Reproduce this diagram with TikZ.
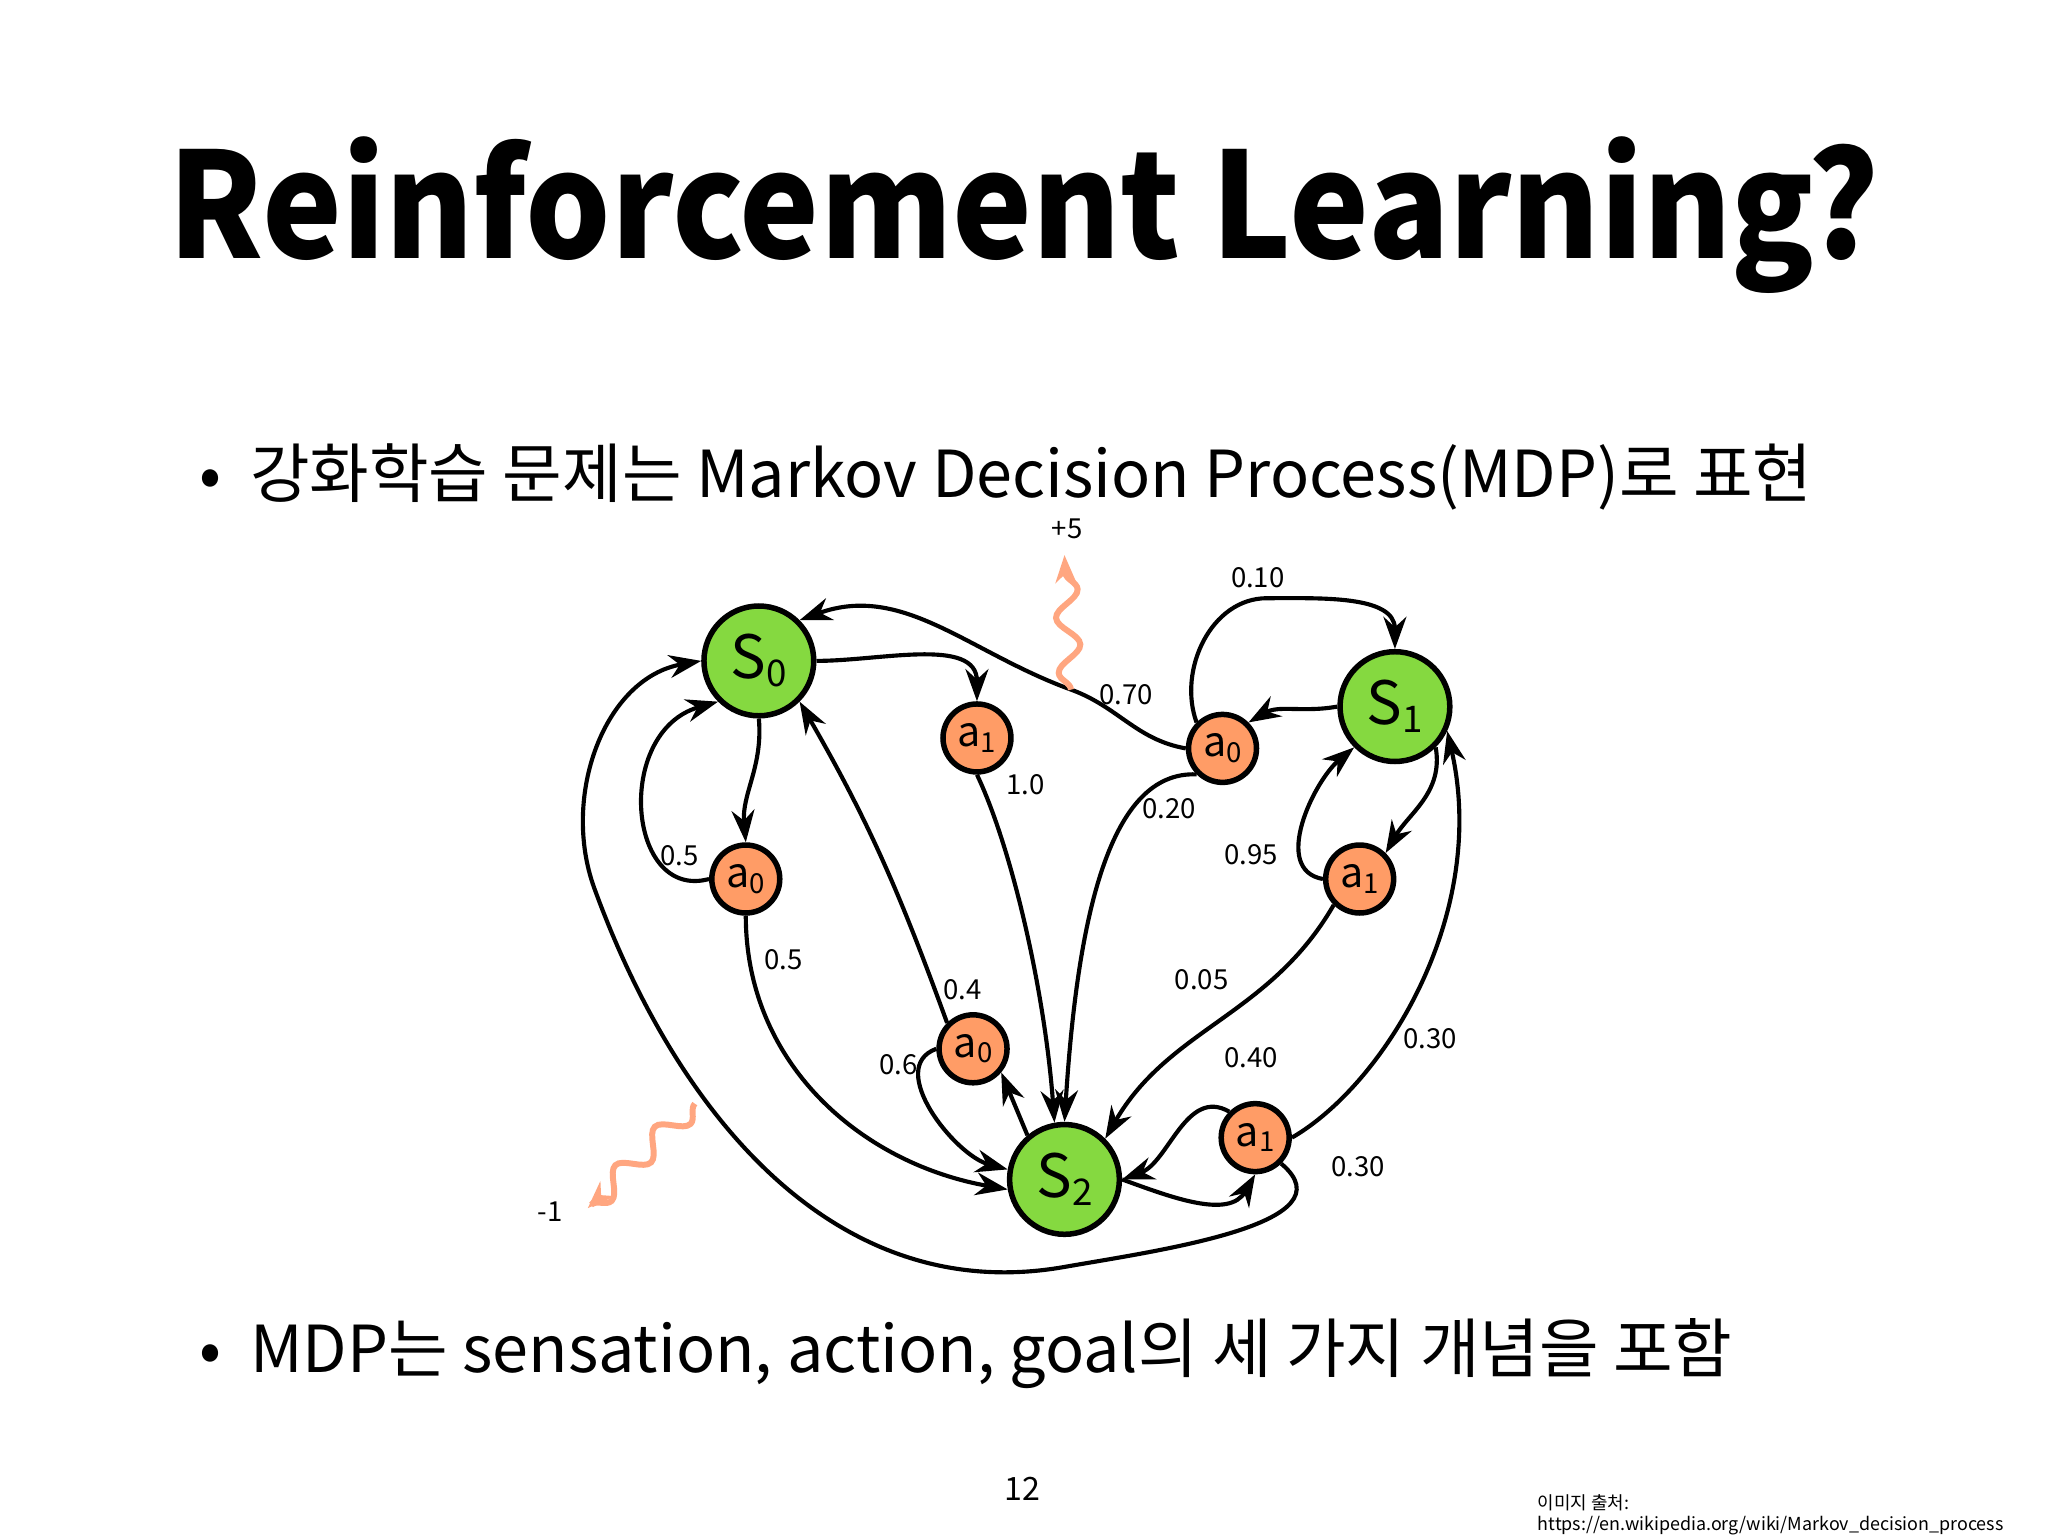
\documentclass[tikz,border=0pt]{standalone}
\usepackage{fontspec}
\setmainfont{Noto Sans CJK KR}
\usetikzlibrary{arrows.meta,decorations.pathmorphing}
\newcommand{\sbs}[1]{\raisebox{-0.25ex}{\fontsize{8}{8}\selectfont #1}}
\newcommand{\sbsa}[1]{\raisebox{-0.25ex}{\fontsize{6}{6}\selectfont #1}}
\begin{document}
\begin{tikzpicture}[x=0.01cm,y=-0.01cm,
 st/.style={circle,draw=black,line width=1.2pt,fill=green!55!yellow!80!black!75,minimum size=0.84cm,inner sep=0pt,font=\fontsize{13}{13}\selectfont},
 ac/.style={circle,draw=black,line width=1.2pt,fill=orange!70!red!60!white,minimum size=0.52cm,inner sep=0pt,font=\fontsize{9}{9}\selectfont},
 ed/.style={-{Stealth[length=7pt,width=5pt]},line width=0.9pt},
 lb/.style={font=\fontsize{6}{6}\selectfont},
 sq/.style={-{Stealth[length=6pt]},draw=orange!60!red!50!white,line width=1.3pt,decorate,decoration={snake,amplitude=2.5pt,segment length=12pt}},
 bul/.style={font=\fontsize{14.1}{14.1}\selectfont,anchor=west}]
\useasboundingbox (0,0) rectangle (1568,1176);
\fill[white] (0,0) rectangle (1568,1176);
\node[font=\fontsize{38}{38}\selectfont\bfseries] (title) at (784,165) {\scalebox{0.77}[0.84]{Reinforcement Learning?}};
\node[bul] (b1) at (140,365) {•\ \ 강화학습 문제는 Markov Decision Process(MDP)로 표현};
\node[bul] (b2) at (140,1036) {•\ \ MDP는 sensation, action, goal의 세 가지 개념을 포함};
\node[font=\fontsize{7}{7}\selectfont] (pg) at (783,1140) {12};
\node[font=\fontsize{3.9}{4.6}\selectfont,align=left,anchor=north west] (src) at (1165,1132) {이미지 출처:\\https://en.wikipedia.org/wiki/Markov\_decision\_process};

\node[st] (S0) at (581,506) {S\sbs{0}};
\node[st] (S1) at (1068,541) {S\sbs{1}};
\node[st] (S2) at (815,903) {S\sbs{2}};
\node[ac] (a1t) at (748,565) {a\sbsa{1}};
\node[ac] (a0m) at (936,573) {a\sbsa{0}};
\node[ac] (a0l) at (571,673) {a\sbsa{0}};
\node[ac] (a1r) at (1041,673) {a\sbsa{1}};
\node[ac] (a0b) at (745,803) {a\sbsa{0}};
\node[ac] (a1b) at (961,871) {a\sbsa{1}};

% S0 edges
\draw[ed] (S0.east) to[out=0,in=90] (a1t.north);
\draw[ed] (a1t.south) .. controls (775,650) and (800,760) .. (S2.100);
\draw[ed] (S0.south) to[out=-85,in=95] (a0l.north);
\draw[ed] (a0l.west) .. controls (480,690) and (470,560) .. (S0.south west);
\draw[ed] (a0l.south) to[out=-90,in=170] (S2.190);
% a0 bottom
\draw[ed] (S2.130) -- (a0b.-40);
\draw[ed] (a0b.north west) to[out=110,in=-60] (S0.south east);
\draw[ed] (a0b.west) to[out=200,in=165] (S2.170);
% a0 mid
\coordinate (p5) at (820,528);
\draw[ed] (a0m.west) to[out=170,in=-20] (p5) to[out=160,in=20] (S0.north east);
\draw[ed] (a0m.north west) to[out=110,in=180] (970,458) to[out=0,in=90] (S1.north);
\draw[ed] (a0m.south west) .. controls (850,590) and (825,700) .. (S2.north);
\draw[ed] (S1.west) to[out=190,in=30] (a0m.north east);
% S1 side
\draw[ed] (S1.south east) to[out=-80,in=60] (a1r.north east);
\draw[ed] (a1r.west) to[out=170,in=-140] (S1.south west);
\draw[ed] (a1r.south west) to[out=-120,in=60] (S2.north east);
% a1 bottom
\draw[ed] (S2.east) to[out=-20,in=-120] (a1b.south);
\draw[ed] (a1b.north west) to[out=150,in=20] (S2.east);
\draw[ed] (a1b.east) .. controls (1060,830) and (1140,700) .. (S1.-25);
\draw[ed] (a1b.south east) to[out=-40,in=10] (815,970) to[out=190,in=-70] (455,680) to[out=110,in=190] (S0.west);
% labels
\node[lb] (l70) at (862,532) {0.70};
\node[lb] (l10) at (963,442) {0.10};
\node[lb] (l20) at (895,619) {0.20};
\node[lb] (l95) at (958,654) {0.95};
\node[lb] (l05) at (920,750) {0.05};
\node[lb] (l40) at (958,810) {0.40};
\node[lb] (l30a) at (1095,795) {0.30};
\node[lb] (l30b) at (1040,893) {0.30};
\node[lb] (l10b) at (785,601) {1.0};
\node[lb] (l5a) at (520,655) {0.5};
\node[lb] (l5b) at (600,735) {0.5};
\node[lb] (l4) at (737,758) {0.4};
\node[lb] (l6) at (688,815) {0.6};
% rewards
\coordinate (r5) at (815,425);
\draw[sq] (p5) -- (r5);
\node[lb] (plus5) at (817,405) {+5};
\coordinate (m1s) at (532,845);
\coordinate (m1e) at (450,925);
\draw[sq] (m1s) -- (m1e);
\node[lb] (minus1) at (421,928) {-1};
\end{tikzpicture}
\end{document}
